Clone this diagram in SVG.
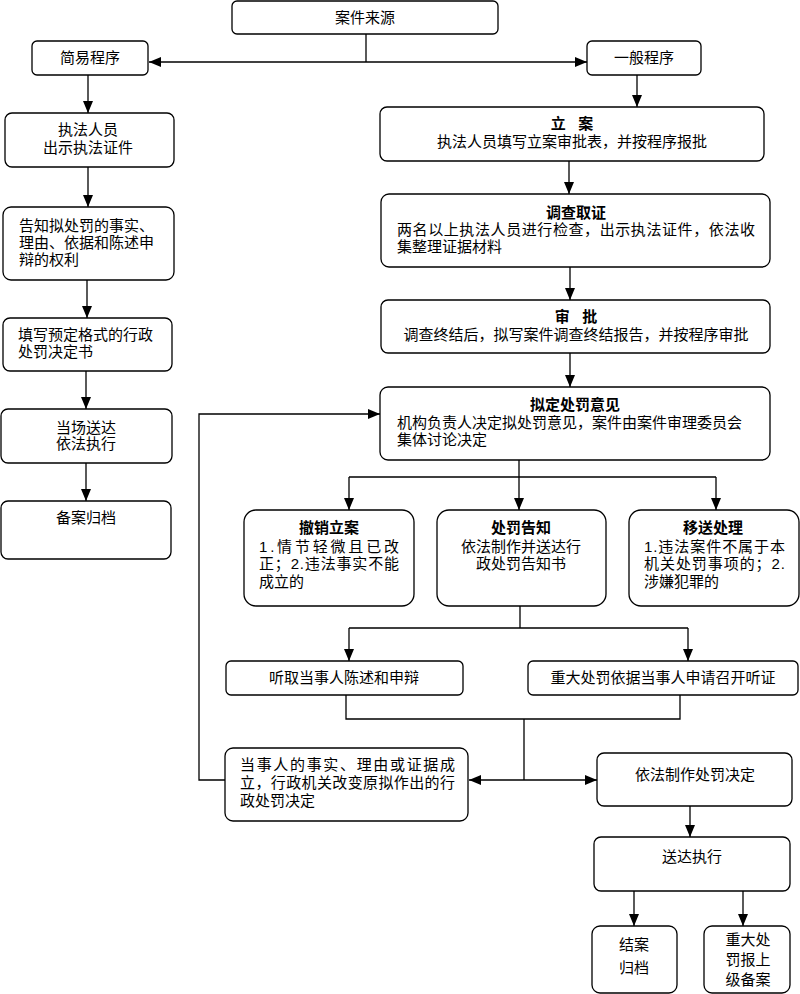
<svg xmlns="http://www.w3.org/2000/svg" width="800" height="994" viewBox="0 0 800 994">
<style>
.box{fill:#fff;stroke:#000;stroke-width:1.3}
.c{fill:none;stroke:#000;stroke-width:1.3}
text{font-family:"Liberation Sans","Noto Sans CJK SC",sans-serif;font-size:15px;fill:#000}
.m{text-anchor:middle}
.b{font-weight:bold}
</style>
<defs>
<marker id="ah" markerUnits="userSpaceOnUse" markerWidth="12" markerHeight="12" viewBox="0 0 12 12" refX="12" refY="6" orient="auto">
<path d="M0,1 L12,6 L0,11 z" fill="#000"/>
</marker>
</defs>
<rect width="800" height="994" fill="#fff"/>
<g id="connectors">
<path class="c" d="M366,34 V62"/>
<path class="c" d="M366,62 H149" marker-end="url(#ah)"/>
<path class="c" d="M366,62 H587" marker-end="url(#ah)"/>
<path class="c" d="M88,75 V113" marker-end="url(#ah)"/>
<path class="c" d="M88,167 V207" marker-end="url(#ah)"/>
<path class="c" d="M87,280 V318" marker-end="url(#ah)"/>
<path class="c" d="M86,371 V409" marker-end="url(#ah)"/>
<path class="c" d="M86,463 V501" marker-end="url(#ah)"/>
<path class="c" d="M637,75 V107" marker-end="url(#ah)"/>
<path class="c" d="M569,161 V194" marker-end="url(#ah)"/>
<path class="c" d="M570,267 V300" marker-end="url(#ah)"/>
<path class="c" d="M570,353 V387" marker-end="url(#ah)"/>
<path class="c" d="M519,460 V477 M349,477 H716"/>
<path class="c" d="M349,477 V510" marker-end="url(#ah)"/>
<path class="c" d="M519,477 V510" marker-end="url(#ah)"/>
<path class="c" d="M716,477 V510" marker-end="url(#ah)"/>
<path class="c" d="M520,606 V628 M349,628 H688"/>
<path class="c" d="M349,628 V661" marker-end="url(#ah)"/>
<path class="c" d="M688,628 V661" marker-end="url(#ah)"/>
<path class="c" d="M346,695 V719 H680 V695 M524,719 V780"/>
<path class="c" d="M524,780 H469" marker-end="url(#ah)"/>
<path class="c" d="M524,780 H597" marker-end="url(#ah)"/>
<path class="c" d="M225,780 H199 V414 H380" marker-end="url(#ah)"/>
<path class="c" d="M690,806 V837" marker-end="url(#ah)"/>
<path class="c" d="M634,891 V926" marker-end="url(#ah)"/>
<path class="c" d="M743,891 V926" marker-end="url(#ah)"/>
</g>
<g id="n-source"><rect class="box" x="232" y="1" width="266" height="33" rx="5"/><text class="m" x="365" y="23">案件来源</text></g>
<g id="n-simple"><rect class="box" x="32" y="41" width="116" height="34" rx="5"/><text class="m" x="90" y="63">简易程序</text></g>
<g id="n-general"><rect class="box" x="587" y="41" width="114" height="34" rx="5"/><text class="m" x="644" y="63">一般程序</text></g>
<g id="n-s1"><rect class="box" x="5" y="113" width="169" height="54" rx="7"/><text class="m" x="88" y="135">执法人员</text><text class="m" x="88" y="153">出示执法证件</text></g>
<g id="n-s2"><rect class="box" x="3" y="207" width="171" height="73" rx="8"/><text x="19" y="231">告知拟处罚的事实、</text><text x="19" y="248">理由、依据和陈述申</text><text x="19" y="265">辩的权利</text></g>
<g id="n-s3"><rect class="box" x="3" y="318" width="169" height="53" rx="7"/><text x="18" y="340">填写预定格式的行政</text><text x="18" y="357">处罚决定书</text></g>
<g id="n-s4"><rect class="box" x="1" y="409" width="171" height="54" rx="7"/><text class="m" x="86" y="433">当场送达</text><text class="m" x="86" y="449">依法执行</text></g>
<g id="n-s5"><rect class="box" x="1" y="501" width="170" height="58" rx="7"/><text class="m" x="86" y="523">备案归档</text></g>
<g id="n-g1"><rect class="box" x="380" y="107" width="384" height="54" rx="7"/><text class="m b" x="572" y="129" xml:space="preserve">立   案</text><text class="m" x="572" y="147">执法人员填写立案审批表，并按程序报批</text></g>
<g id="n-g2"><rect class="box" x="381" y="194" width="389" height="73" rx="8"/><text class="m b" x="576" y="218">调查取证</text><text x="397" y="235" textLength="358" lengthAdjust="spacing">两名以上执法人员进行检查，出示执法证件，依法收</text><text x="397" y="252">集整理证据材料</text></g>
<g id="n-g3"><rect class="box" x="381" y="300" width="389" height="53" rx="7"/><text class="m b" x="576" y="322" xml:space="preserve">审   批</text><text class="m" x="576" y="340">调查终结后，拟写案件调查终结报告，并按程序审批</text></g>
<g id="n-g4"><rect class="box" x="380" y="387" width="390" height="73" rx="8"/><text class="m b" x="575" y="410">拟定处罚意见</text><text x="397" y="428">机构负责人决定拟处罚意见，案件由案件审理委员会</text><text x="397" y="445">集体讨论决定</text></g>
<g id="n-cancel"><rect class="box" x="244" y="510" width="170" height="96" rx="12"/><text class="m b" x="329" y="533">撤销立案</text><text x="259" y="552" textLength="140" lengthAdjust="spacing">1.情节轻微且已改</text><text x="259" y="569" textLength="140" lengthAdjust="spacing">正；2.违法事实不能</text><text x="259" y="587">成立的</text></g>
<g id="n-notify"><rect class="box" x="437" y="510" width="169" height="96" rx="12"/><text class="m b" x="521" y="533">处罚告知</text><text class="m" x="521" y="552">依法制作并送达行</text><text class="m" x="521" y="569">政处罚告知书</text></g>
<g id="n-transfer"><rect class="box" x="629" y="510" width="170" height="96" rx="12"/><text class="m b" x="713" y="533">移送处理</text><text x="644" y="552" textLength="141" lengthAdjust="spacing">1.违法案件不属于本</text><text x="644" y="569" textLength="141" lengthAdjust="spacing">机关处罚事项的；2.</text><text x="644" y="587">涉嫌犯罪的</text></g>
<g id="n-hear"><rect class="box" x="226" y="661" width="237" height="34" rx="5"/><text class="m" x="344" y="683">听取当事人陈述和申辩</text></g>
<g id="n-hearing"><rect class="box" x="528" y="661" width="270" height="34" rx="5"/><text class="m" x="663" y="683">重大处罚依据当事人申请召开听证</text></g>
<g id="n-change"><rect class="box" x="225" y="748" width="243" height="73" rx="8"/><text x="240" y="770" textLength="215" lengthAdjust="spacing">当事人的事实、理由或证据成</text><text x="240" y="788" textLength="215" lengthAdjust="spacing">立，行政机关改变原拟作出的行</text><text x="240" y="806">政处罚决定</text></g>
<g id="n-decide"><rect class="box" x="597" y="753" width="195" height="53" rx="7"/><text class="m" x="695" y="780">依法制作处罚决定</text></g>
<g id="n-deliver"><rect class="box" x="594" y="837" width="196" height="54" rx="7"/><text class="m" x="692" y="862">送达执行</text></g>
<g id="n-close"><rect class="box" x="592" y="926" width="85" height="67" rx="8"/><text class="m" x="634" y="950">结案</text><text class="m" x="634" y="973">归档</text></g>
<g id="n-report"><rect class="box" x="704" y="926" width="86" height="67" rx="8"/><text class="m" x="748" y="945">重大处</text><text class="m" x="748" y="965">罚报上</text><text class="m" x="748" y="985">级备案</text></g>
</svg>
